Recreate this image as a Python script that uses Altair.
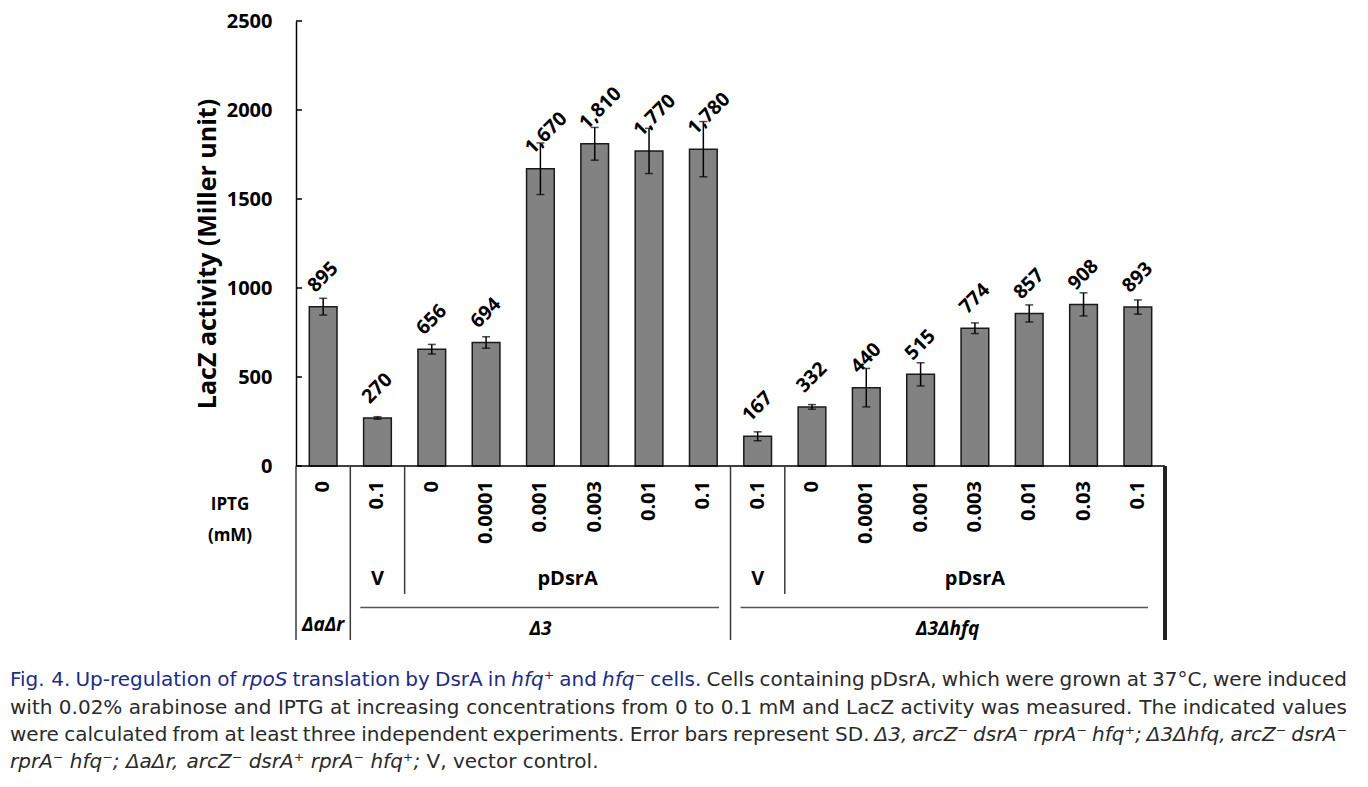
import os
import glob
import struct
import subprocess

import altair as alt
import pandas as pd

# ---------------- data ----------------
ids = [f"b{i}" for i in range(1, 17)]
values = [895, 270, 656, 694, 1670, 1810, 1770, 1780, 167, 332, 440, 515, 774, 857, 908, 893]
sds = [47, 7, 27, 32, 145, 92, 127, 155, 25, 13, 108, 65, 30, 48, 65, 40]
iptg = ["0", "0.1", "0", "0.0001", "0.001", "0.003", "0.01", "0.1",
        "0.1", "0", "0.0001", "0.001", "0.003", "0.01", "0.03", "0.1"]
yticks = [0, 500, 1000, 1500, 2000, 2500]

BLUE = "#1d2c84"
TXT = "#2a2a2a"
caption_lines = [
    [("Fig. 4. Up-regulation of", "normal", BLUE), ("rpoS", "italic", BLUE),
     ("translation by DsrA in", "normal", BLUE), ("hfq⁺", "italic", BLUE),
     ("and", "normal", BLUE), ("hfq⁻", "italic", BLUE), ("cells.", "normal", BLUE),
     ("Cells containing pDsrA, which were grown at 37°C, were induced", "normal", TXT)],
    [("with 0.02% arabinose and IPTG at increasing concentrations from 0 to 0.1 mM and "
      "LacZ activity was measured. The indicated values", "normal", TXT)],
    [("were calculated from at least three independent experiments. Error bars represent SD.",
      "normal", TXT),
     ("Δ3, arcZ⁻ dsrA⁻ rprA⁻ hfq⁺; Δ3Δhfq, arcZ⁻ dsrA⁻", "italic", TXT)],
    [("rprA⁻ hfq⁻; ΔaΔr, arcZ⁻ dsrA⁺ rprA⁻ hfq⁺;", "italic", TXT),
     ("V, vector control.", "normal", TXT)],
]

# ---------------- layout ----------------
W, H = 869, 445
PAD_L, PAD_T = 288, 13
OX, OY = 8 + PAD_L, 8 + PAD_T          # page position of the plot origin
STEP = W / 16
HALF_GAP = 0.245 * STEP
F = "Open Sans"
CF = "DejaVu Sans"
LINE = "#3a3a3a"


# ---------- text width measurement (for caption word placement) ----------
def find_font():
    try:
        p = subprocess.run(["fc-match", "-f", "%{file}", "DejaVu Sans"],
                           capture_output=True, text=True, timeout=5).stdout.strip()
        if p and os.path.exists(p) and p.lower().endswith(".ttf"):
            return p
    except Exception:
        pass
    for pat in ["/usr/share/fonts/**/DejaVuSans.ttf", "/usr/local/share/fonts/**/DejaVuSans.ttf",
                "/usr/**/DejaVuSans.ttf"]:
        r = glob.glob(pat, recursive=True)
        if r:
            return r[0]
    return None


def load_width_fn(path):
    data = open(path, "rb").read()
    ntab = struct.unpack(">H", data[4:6])[0]
    tables = {}
    for i in range(ntab):
        tag, _, off, ln = struct.unpack(">4sIII", data[12 + 16 * i:28 + 16 * i])
        tables[tag.decode("latin1")] = off
    upem = struct.unpack(">H", data[tables["head"] + 18:tables["head"] + 20])[0]
    nhm = struct.unpack(">H", data[tables["hhea"] + 34:tables["hhea"] + 36])[0]
    ho = tables["hmtx"]
    adv = [struct.unpack(">H", data[ho + 4 * i:ho + 4 * i + 2])[0] for i in range(nhm)]
    co = tables["cmap"]
    nsub = struct.unpack(">H", data[co + 2:co + 4])[0]
    sub = None
    for i in range(nsub):
        pid, eid, so = struct.unpack(">HHI", data[co + 4 + 8 * i:co + 12 + 8 * i])
        fmt = struct.unpack(">H", data[co + so:co + so + 2])[0]
        if fmt == 4 and ((pid == 3 and eid == 1) or pid == 0):
            sub = co + so
            break
    segx2 = struct.unpack(">H", data[sub + 6:sub + 8])[0]
    n = segx2 // 2
    e_o = sub + 14
    s_o = e_o + segx2 + 2
    d_o = s_o + segx2
    r_o = d_o + segx2
    ends = struct.unpack(">%dH" % n, data[e_o:e_o + segx2])
    starts = struct.unpack(">%dH" % n, data[s_o:s_o + segx2])
    deltas = struct.unpack(">%dh" % n, data[d_o:d_o + segx2])
    ros = struct.unpack(">%dH" % n, data[r_o:r_o + segx2])

    def gid(c):
        for i in range(n):
            if c <= ends[i]:
                if c < starts[i]:
                    return 0
                if ros[i] == 0:
                    return (c + deltas[i]) & 0xFFFF
                a = r_o + 2 * i + ros[i] + 2 * (c - starts[i])
                g = struct.unpack(">H", data[a:a + 2])[0]
                return (g + deltas[i]) & 0xFFFF if g else 0
        return 0

    def width(s):
        return sum(adv[min(gid(ord(ch)), nhm - 1)] for ch in s) / upem
    return width


try:
    text_w = load_width_fn(find_font())
except Exception:
    def text_w(s):
        return 0.56 * len(s)

df = pd.DataFrame({"id": ids, "value": values, "sd": sds, "iptg": iptg})

x_bar = alt.X("id:N", sort=ids, axis=None,
              scale=alt.Scale(paddingInner=0.49, paddingOuter=0.245))
x_c = alt.X("id:N", sort=ids, axis=None)
x_b = alt.X("id:N", sort=ids, axis=None, bandPosition=0)
ysc = alt.Scale(domain=[0, 2500], nice=False)

bars = alt.Chart(df).mark_bar(color="#828282", stroke="#1a1a1a", strokeWidth=1.5).encode(
    x=x_bar,
    y=alt.Y("value:Q", scale=ysc,
            axis=alt.Axis(values=yticks, title=None, ticks=False, labelPadding=24,
                          labelFont=F, labelFontSize=20, labelFontWeight="bold",
                          labelColor="black", domainColor="black", domainWidth=1.5,
                          grid=False, format="d")),
)

err_base = alt.Chart(df).transform_calculate(
    lo="datum.value - datum.sd", hi="datum.value + datum.sd")
err = err_base.mark_rule(color="black", strokeWidth=1.5).encode(x=x_c, y="lo:Q", y2="hi:Q")
cap_hi = err_base.mark_tick(color="black", thickness=1.5, size=8).encode(x=x_c, y="hi:Q")
cap_lo = err_base.mark_tick(color="black", thickness=1.5, size=8).encode(x=x_c, y="lo:Q")

labels = alt.Chart(df).mark_text(angle=315, align="left", baseline="alphabetic", dx=4, dy=-15,
                                 font=F, fontSize=19.5, fontWeight="bold", color="black").encode(
    x=x_c, y="value:Q", text=alt.Text("value:Q", format=","))

tick_df = pd.DataFrame({"t": yticks})
inner_ticks = alt.Chart(tick_df).mark_rule(color="black", strokeWidth=1.5).encode(
    y="t:Q", x=alt.value(0), x2=alt.value(6))

one = pd.DataFrame({"a": [0]})
baseline = alt.Chart(one).mark_rule(color="black", strokeWidth=1.5).encode(
    y=alt.datum(0), x=alt.value(0), x2=alt.value(W))

# ---------------- table below the axis ----------------
Y_BOT = 640 - OY
Y_SHORT = 594 - OY
sep_full = alt.Chart(pd.DataFrame({"id": ["b1", "b2", "b9"]})).mark_rule(
    color=LINE, strokeWidth=1.5, xOffset=-HALF_GAP).encode(
    x=x_b, y=alt.value(H), y2=alt.value(Y_BOT))
sep_short = alt.Chart(pd.DataFrame({"id": ["b3", "b10"]})).mark_rule(
    color=LINE, strokeWidth=1.5, xOffset=-HALF_GAP).encode(
    x=x_b, y=alt.value(H), y2=alt.value(Y_SHORT))
right_border = alt.Chart(one).mark_rule(color="#222222", strokeWidth=4).encode(
    x=alt.value(W), y=alt.value(H), y2=alt.value(Y_BOT))

Y_HL = 607.5 - OY
hl1 = alt.Chart(one).mark_rule(color="#555555", strokeWidth=1.5).encode(
    x=alt.value(STEP + 10), x2=alt.value(8 * STEP - 11.5), y=alt.value(Y_HL))
hl2 = alt.Chart(one).mark_rule(color="#555555", strokeWidth=1.5).encode(
    x=alt.value(8 * STEP + 10), x2=alt.value(16 * STEP - 17), y=alt.value(Y_HL))

iptg_text = alt.Chart(df).mark_text(angle=270, align="right", baseline="middle",
                                    font=F, fontSize=20, fontWeight="bold", color="black").encode(
    x=x_c, y=alt.value(481 - OY), text="iptg:N")


def txt(s, x, y, size=18, weight="bold", style="normal", color="black", font=F,
        align="center", angle=0):
    kw = dict(font=font, fontSize=size, fontWeight=weight, fontStyle=style, color=color,
              align=align, baseline="middle")
    if angle:
        kw["angle"] = angle
    return alt.Chart(one).mark_text(**kw).encode(
        x=alt.value(x), y=alt.value(y), text=alt.value(s))


row2c = alt.Chart(pd.DataFrame({"id": ["b2", "b9", "b13"], "t": ["V", "V", "pDsrA"]})).mark_text(
    font=F, fontSize=20, fontWeight="bold", color="black", baseline="middle").encode(
    x=x_c, y=alt.value(579 - OY), text="t:N")
row2b = alt.Chart(pd.DataFrame({"id": ["b6"], "t": ["pDsrA"]})).mark_text(
    font=F, fontSize=20, fontWeight="bold", color="black", baseline="middle",
    xOffset=-HALF_GAP).encode(x=x_b, y=alt.value(579 - OY), text="t:N")
row3a = alt.Chart(pd.DataFrame({"id": ["b1"], "t": ["ΔaΔr"]})).mark_text(
    font=F, fontSize=19, fontWeight="bold", fontStyle="italic", color="black",
    baseline="middle").encode(x=x_c, y=alt.value(625 - OY), text="t:N")
row3c = alt.Chart(pd.DataFrame({"id": ["b5"], "t": ["Δ3"]})).mark_text(
    font=F, fontSize=19, fontWeight="bold", fontStyle="italic", color="black",
    baseline="middle").encode(x=x_c, y=alt.value(629 - OY), text="t:N")
row3b = alt.Chart(pd.DataFrame({"id": ["b13"], "t": ["Δ3Δhfq"]})).mark_text(
    font=F, fontSize=19, fontWeight="bold", fontStyle="italic", color="black", baseline="middle",
    xOffset=-HALF_GAP).encode(x=x_b, y=alt.value(629 - OY), text="t:N")

ytitle = txt("LacZ activity (Miller unit)", 208 - OX, 254 - OY, size=25, angle=270)
iptg_lbl = txt("IPTG", 230 - OX, 505 - OY, size=17)
mm_lbl = txt("(mM)", 230 - OX, 536 - OY, size=17)

# ---------------- caption (justified, word by word) ----------------
CAP_X0, CAP_X1 = 10, 1347
CAP_Y = [680, 707.5, 735, 762]
CAP_W = CAP_X1 - CAP_X0
CS = CAP_W / text_w(caption_lines[1][0][0])
SPACE = text_w(" ") * CS

cap_layers = []
for li, runs in enumerate(caption_lines):
    words = []
    for s, style, color in runs:
        for w in s.split(" "):
            words.append((w, style, color, text_w(w) * CS))
    natural = sum(w[3] for w in words) + SPACE * (len(words) - 1)
    gap = SPACE
    if li < len(caption_lines) - 1 and len(words) > 1:
        gap = SPACE + (CAP_W - natural) / (len(words) - 1)
    xpos = CAP_X0
    for w, style, color, ww in words:
        cap_layers.append(txt(w, xpos - OX, CAP_Y[li] - OY, CS, "normal", style, color,
                              CF, "left"))
        xpos += ww + gap

chart = alt.layer(
    bars, err, cap_hi, cap_lo, labels, inner_ticks, baseline,
    sep_full, sep_short, right_border, hl1, hl2, iptg_text,
    row2c, row2b, row3a, row3c, row3b, ytitle, iptg_lbl, mm_lbl, *cap_layers
).properties(
    width=W, height=H,
    padding={"left": PAD_L, "top": PAD_T, "right": 1352 - PAD_L - W,
             "bottom": 766 - PAD_T - H},
    autosize=alt.AutoSizeParams(type="none"),
    background="white",
).configure_view(stroke=None)

chart.save("out.html", embed_options={"renderer": "svg", "actions": False})
